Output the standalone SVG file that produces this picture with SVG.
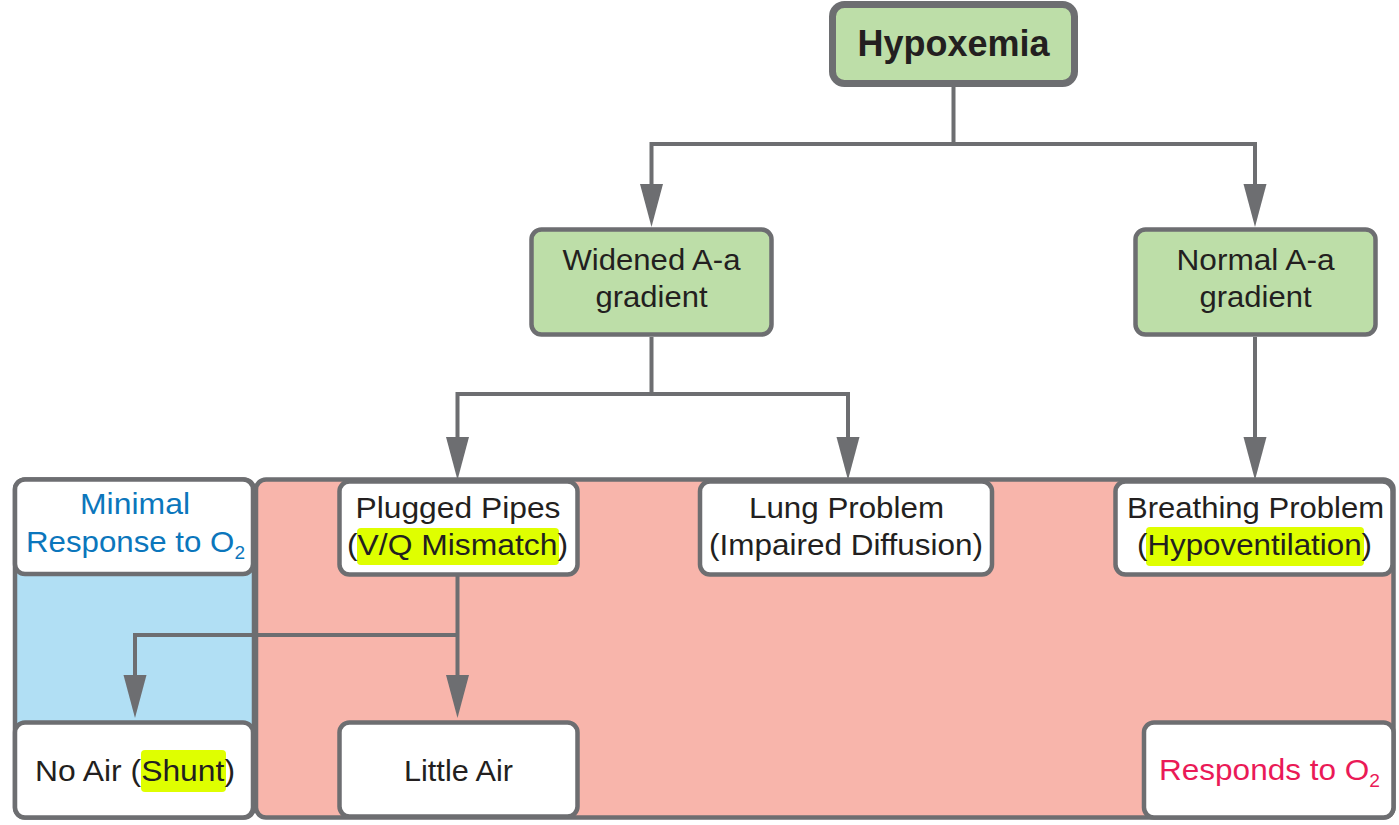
<svg xmlns="http://www.w3.org/2000/svg" width="1399" height="825" viewBox="0 0 1399 825">
<style>
.bx{fill:#ffffff;stroke:#6d6e71;stroke-width:4.5}
.gr{fill:#bddea8;stroke:#6d6e71;stroke-width:4.5}
.t{font-family:"Liberation Sans",Arial,sans-serif;font-size:29.5px;fill:#231f20;text-anchor:middle}
.blue{fill:#0b76bc}
.red{fill:#ea1a57}
.hl{fill:#dfff00}
.cn{fill:none;stroke:#6d6e71;stroke-width:4;stroke-linejoin:miter}
</style>
<defs>
<marker id="arr" markerUnits="userSpaceOnUse" markerWidth="44" markerHeight="24" viewBox="0 0 44 24" refX="0" refY="12" orient="auto">
<path d="M0,0.5 L43,12 L0,23.5 z" fill="#6d6e71"/>
</marker>
</defs>
<rect width="1399" height="825" fill="#ffffff"/>
<!-- background regions -->
<rect x="15" y="479.5" width="239" height="338" rx="10" fill="#b1dff4" stroke="#6d6e71" stroke-width="4.5"/>
<rect x="256" y="479.5" width="1137.5" height="338" rx="10" fill="#f8b5ab" stroke="#6d6e71" stroke-width="4.5"/>
<g id="connectors">
<path class="cn" d="M953.5 87 V144 H651.5 V184" marker-end="url(#arr)"/>
<path class="cn" d="M953.5 144 H1255 V184" marker-end="url(#arr)"/>
<path class="cn" d="M651.5 337 V394 H457.5 V437" marker-end="url(#arr)"/>
<path class="cn" d="M651.5 394 H848 V437" marker-end="url(#arr)"/>
<path class="cn" d="M1255 337 V437" marker-end="url(#arr)"/>
<path class="cn" d="M457.5 635 H135 V675" marker-end="url(#arr)"/>
<path class="cn" d="M457.5 576 V675" marker-end="url(#arr)"/>
</g>
<g id="hypoxemia">
<rect x="832.5" y="4.5" width="242" height="79" rx="12" fill="#bddea8" stroke="#6d6e71" stroke-width="7"/>
<text x="953.5" y="56" class="t" style="font-weight:bold;font-size:36px">Hypoxemia</text>
</g>
<g id="widened">
<rect class="gr" x="531.5" y="229.5" width="240" height="105" rx="10"/>
<text x="651.5" y="270" class="t" textLength="178" lengthAdjust="spacingAndGlyphs">Widened A-a</text>
<text x="651.5" y="307" class="t" textLength="112" lengthAdjust="spacingAndGlyphs">gradient</text>
</g>
<g id="normal">
<rect class="gr" x="1135.5" y="229.5" width="240" height="105" rx="10"/>
<text x="1255.5" y="270" class="t" textLength="158" lengthAdjust="spacingAndGlyphs">Normal A-a</text>
<text x="1255.5" y="307" class="t" textLength="112" lengthAdjust="spacingAndGlyphs">gradient</text>
</g>
<g id="minimal">
<rect class="bx" x="15" y="479.5" width="238" height="94.5" rx="10"/>
<text x="135" y="514" class="t blue" textLength="110" lengthAdjust="spacingAndGlyphs">Minimal</text>
<text x="135.5" y="552" class="t blue" textLength="219" lengthAdjust="spacingAndGlyphs">Response to O<tspan style="font-size:18px" dy="7">2</tspan></text>
</g>
<g id="plugged">
<rect class="bx" x="339.5" y="481.5" width="238" height="93" rx="10"/>
<rect class="hl" x="357" y="528" width="202" height="37" rx="4"/>
<text x="458" y="518" class="t" textLength="205" lengthAdjust="spacingAndGlyphs">Plugged Pipes</text>
<text x="457.5" y="555" class="t" textLength="221" lengthAdjust="spacingAndGlyphs">(V/Q Mismatch)</text>
</g>
<g id="lung">
<rect class="bx" x="700" y="481.5" width="292" height="93" rx="10"/>
<text x="846.5" y="518" class="t" textLength="195" lengthAdjust="spacingAndGlyphs">Lung Problem</text>
<text x="846" y="555" class="t" textLength="274" lengthAdjust="spacingAndGlyphs">(Impaired Diffusion)</text>
</g>
<g id="breathing">
<rect class="bx" x="1115.5" y="481.5" width="277" height="93" rx="10"/>
<rect class="hl" x="1146" y="527" width="218" height="39" rx="4"/>
<text x="1255.5" y="518" class="t" textLength="257" lengthAdjust="spacingAndGlyphs">Breathing Problem</text>
<text x="1254.5" y="555" class="t" textLength="235" lengthAdjust="spacingAndGlyphs">(Hypoventilation)</text>
</g>
<g id="noair">
<rect class="bx" x="15" y="722.5" width="238" height="95" rx="10"/>
<rect class="hl" x="141" y="750" width="85" height="42" rx="4"/>
<text x="135" y="781" class="t" textLength="200" lengthAdjust="spacingAndGlyphs">No Air (Shunt)</text>
</g>
<g id="littleair">
<rect class="bx" x="339.5" y="722.5" width="238" height="94" rx="10"/>
<text x="458.5" y="781" class="t" textLength="109" lengthAdjust="spacingAndGlyphs">Little Air</text>
</g>
<g id="responds">
<rect class="bx" x="1144" y="722.5" width="249.5" height="95" rx="10"/>
<text x="1269.5" y="780" class="t red" textLength="221" lengthAdjust="spacingAndGlyphs">Responds to O<tspan style="font-size:18px" dy="7">2</tspan></text>
</g>
</svg>
